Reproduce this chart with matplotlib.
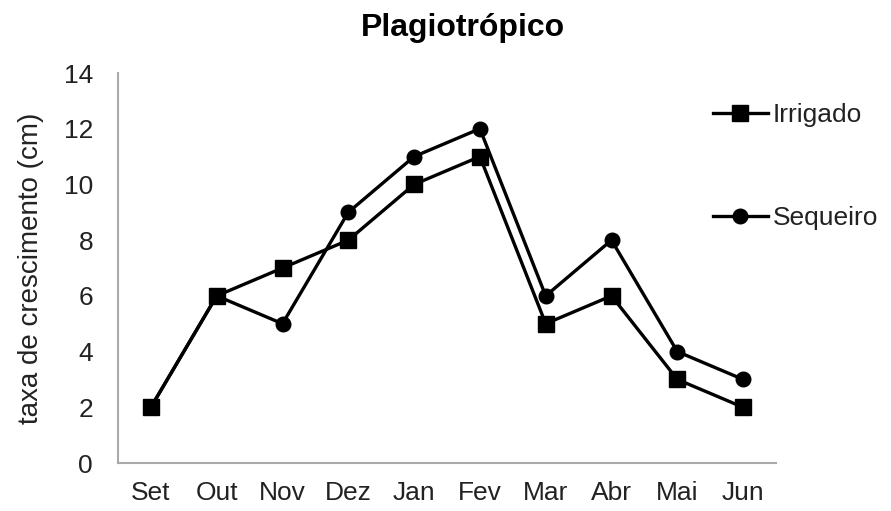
import matplotlib
matplotlib.use("Agg")
import matplotlib.pyplot as plt

plt.rcParams['font.family'] = ['Liberation Sans', 'DejaVu Sans']

months = ["Set", "Out", "Nov", "Dez", "Jan", "Fev", "Mar", "Abr", "Mai", "Jun"]
irrigado = [2, 6, 7, 8, 10, 11, 5, 6, 3, 2]
sequeiro = [2, 6, 5, 9, 11, 12, 6, 8, 4, 3]
yticks = [0, 2, 4, 6, 8, 10, 12, 14]

fig = plt.figure(figsize=(8.91, 5.11), dpi=100)
ax = fig.add_axes([118/891, 48/511, (776-118)/891, (463-73)/511])

x = list(range(len(months)))
ax.plot(x, sequeiro, color='black', lw=2.4, marker='o', markersize=10.5, label='Sequeiro', zorder=3)
ax.plot(x, irrigado, color='black', lw=2.4, marker='s', markersize=11, label='Irrigado', zorder=4)

ax.set_xlim(-0.5, len(months) - 0.5)
ax.set_ylim(0, 14)
ax.set_yticks(yticks)
ax.set_xticks(x)
ax.set_xticklabels(months)
ax.tick_params(axis='both', length=0, labelsize=19, colors='#222222')
ax.tick_params(axis='x', pad=13)
ax.tick_params(axis='y', pad=18)
for s in ['top', 'right']:
    ax.spines[s].set_visible(False)
for s in ['left', 'bottom']:
    ax.spines[s].set_color('#aaaaaa')
    ax.spines[s].set_linewidth(1.5)

ax.set_ylabel('taxa de crescimento (cm)', fontsize=20, color='#222222', labelpad=14)
fig.text(463/891, 1 - 28/511, 'Plagiotrópico', ha='center', va='center',
         fontsize=23, fontweight='bold')

handles, labels = ax.get_legend_handles_labels()
leg = fig.legend(handles[::-1], labels[::-1], loc='upper left',
                 bbox_to_anchor=(713/891, 1 - 103/511), frameon=False,
                 fontsize=19, labelspacing=3.0, handlelength=2.08,
                 handletextpad=0.19, borderaxespad=0, borderpad=0)
for t in leg.get_texts():
    t.set_color('#222222')

fig.savefig('out.png', dpi=100)
